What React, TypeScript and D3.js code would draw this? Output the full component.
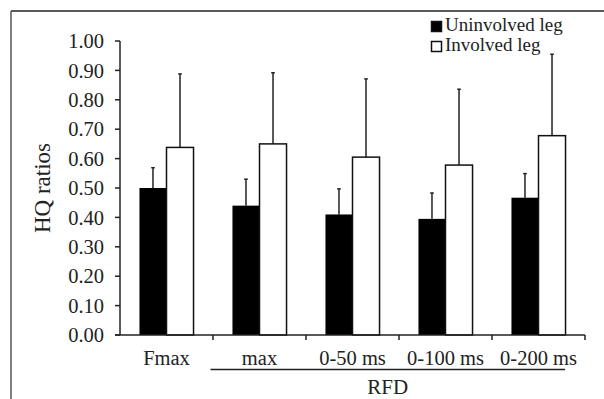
import React from 'react';
import * as d3 from 'd3';

const categories = ['Fmax', 'max', '0-50 ms', '0-100 ms', '0-200 ms'];
const seriesNames = ['Uninvolved leg', 'Involved leg'];
const uninvolved = [0.5, 0.44, 0.41, 0.395, 0.467];
const uninvolvedErrTop = [0.569, 0.53, 0.497, 0.483, 0.549];
const involved = [0.638, 0.65, 0.605, 0.578, 0.678];
const involvedErrTop = [0.888, 0.892, 0.871, 0.836, 0.955];
const yTicks = [0, 0.1, 0.2, 0.3, 0.4, 0.5, 0.6, 0.7, 0.8, 0.9, 1.0];

const W = 604;
const H = 399;
const FONT = '"Liberation Serif", "Times New Roman", serif';

const App: React.FC = () => {
  const x = d3.scaleBand<string>().domain(categories).range([120, 585]).padding(0);
  const sub = d3.scaleBand<string>().domain(seriesNames).range([0, x.bandwidth()]).paddingInner(0).paddingOuter(0.72);
  const y = d3.scaleLinear().domain([0, 1]).range([335, 41]);

  const series = [
    { name: seriesNames[0], values: uninvolved, err: uninvolvedErrTop, fill: '#000' },
    { name: seriesNames[1], values: involved, err: involvedErrTop, fill: '#fff' },
  ];

  const rfdStart = x('max')! + sub(seriesNames[0])! - 22;
  const rfdEnd = x('0-200 ms')! + x.bandwidth() - 20;

  return (
    <svg width={W} height={H} style={{ position: 'absolute', left: 0, top: 0, background: '#fff' }} fontFamily={FONT}>
      {/* frame */}
      <line x1={11} y1={11} x2={W} y2={11} stroke="#222" strokeWidth={1.5} />
      <line x1={11} y1={11} x2={11} y2={H} stroke="#555" strokeWidth={1.5} />

      {/* bars */}
      {series.map((s) => (
        <g key={s.name}>
          {categories.map((c, i) => {
            const bx = x(c)! + sub(s.name)!;
            const bw = sub.bandwidth();
            const cx = bx + bw / 2;
            return (
              <g key={c}>
                <line x1={cx} x2={cx} y1={y(s.values[i])} y2={y(s.err[i])} stroke="#222" strokeWidth={1.5} />
                <line x1={cx - 1.8} x2={cx + 1.8} y1={y(s.err[i])} y2={y(s.err[i])} stroke="#222" strokeWidth={1.5} />
                <rect
                  x={bx}
                  y={y(s.values[i])}
                  width={bw}
                  height={y(0) - y(s.values[i])}
                  fill={s.fill}
                  stroke="#111"
                  strokeWidth={s.fill === '#000' ? 0 : 1.5}
                />
              </g>
            );
          })}
        </g>
      ))}

      {/* y axis */}
      <line x1={120} x2={120} y1={y(1)} y2={y(0)} stroke="#222" strokeWidth={1.5} />
      {yTicks.map((t) => (
        <g key={t}>
          <line x1={115} x2={120} y1={y(t)} y2={y(t)} stroke="#222" strokeWidth={1.5} />
          <text x={104} y={y(t)} dy="0.35em" textAnchor="end" fontSize={20.5} fill="#222">
            {t.toFixed(2)}
          </text>
        </g>
      ))}
      <text transform={`translate(50,${y(0.5)}) rotate(-90)`} textAnchor="middle" fontSize={23} fill="#222">
        HQ ratios
      </text>

      {/* x axis */}
      <line x1={115} x2={585} y1={y(0)} y2={y(0)} stroke="#222" strokeWidth={1.5} />
      {categories.map((c) => (
        <g key={c}>
          <line x1={x(c)! + x.bandwidth()} x2={x(c)! + x.bandwidth()} y1={y(0)} y2={y(0) + 5} stroke="#222" strokeWidth={1.5} />
          <text x={x(c)! + x.bandwidth() / 2} y={365} textAnchor="middle" fontSize={20.5} fill="#222">
            {c}
          </text>
        </g>
      ))}
      <line x1={rfdStart} x2={rfdEnd} y1={369.5} y2={369.5} stroke="#222" strokeWidth={1.5} />
      <text x={(rfdStart + rfdEnd) / 2} y={394} textAnchor="middle" fontSize={21} fill="#222">
        RFD
      </text>

      {/* legend */}
      {series.map((s, i) => (
        <g key={s.name} transform={`translate(431,${21 + i * 20})`}>
          <rect x={0.5} y={0.5} width={10} height={10} fill={s.fill} stroke="#111" strokeWidth={1.5} />
          <text x={14} y={10} fontSize={19} fill="#222">
            {s.name}
          </text>
        </g>
      ))}
    </svg>
  );
};

export default App;
